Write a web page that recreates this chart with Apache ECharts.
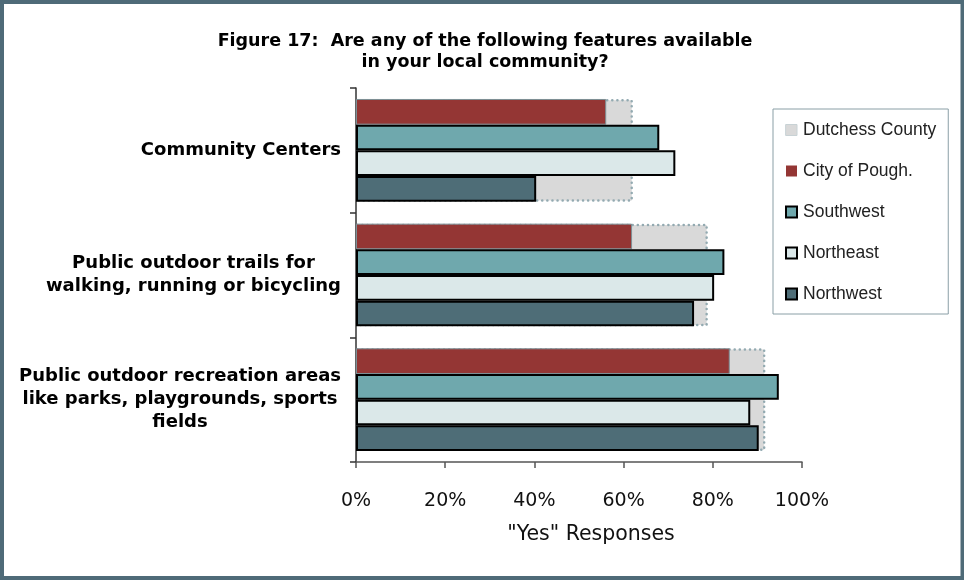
<!DOCTYPE html>
<html>
<head>
<meta charset="utf-8">
<script src="https://cdn.jsdelivr.net/npm/echarts@6/dist/echarts.min.js"></script>
<style>
html,body{margin:0;padding:0;background:#fff;}
#chart{width:964px;height:580px;}
</style>
</head>
<body>
<div id="chart"></div>
<script>
const categories = [
  "Community Centers",
  "Public outdoor trails for\nwalking, running or bicycling",
  "Public outdoor recreation areas\nlike parks, playgrounds, sports\nfields"
];
const dutchessCounty = [62.1, 78.9, 91.8];
const cityOfPough = [56.1, 61.9, 83.8];
const southwest = [68.0, 82.6, 94.8];
const northeast = [71.6, 80.3, 88.4];
const northwest = [40.4, 75.8, 90.3];
const xTicks = [0, 20, 40, 60, 80, 100];

const chart = echarts.init(document.getElementById('chart'));
const dj = '"DejaVu Sans", Verdana, sans-serif';
const lib = '"Liberation Sans", Arial, sans-serif';
const gapPct = '17.6%';

chart.setOption({
  animation: false,
  backgroundColor: '#fff',
  title: {
    text: 'Figure 17:  Are any of the following features available\nin your local community?',
    left: 480, top: 26, textAlign: 'center',
    textStyle: {fontFamily: dj, fontSize: 17.5, fontWeight: 'bold', color: '#000', lineHeight: 21}
  },
  legend: {
    orient: 'vertical',
    left: 773, top: 109,
    padding: [12, 12, 11, 12],
    itemGap: 23,
    itemWidth: 11, itemHeight: 11,
    borderColor: '#8a9fa6', borderWidth: 1,
    textStyle: {fontFamily: lib, fontSize: 17.5, color: '#222', padding: [0,0,0,1]},
    data: [
      {name: 'Dutchess County', icon: 'rect', itemStyle: {color: '#d9d9d9', borderColor: '#c8d2d5', borderWidth: 1}},
      {name: 'City of Pough.', icon: 'rect', itemStyle: {color: '#943634', borderWidth: 0}},
      {name: 'Southwest', icon: 'rect', itemStyle: {color: '#6fa8ad', borderColor: '#000', borderWidth: 2}},
      {name: 'Northeast', icon: 'rect', itemStyle: {color: '#dbe8e9', borderColor: '#000', borderWidth: 2}},
      {name: 'Northwest', icon: 'rect', itemStyle: {color: '#4e6d77', borderColor: '#000', borderWidth: 2}}
    ]
  },
  grid: {left: 356, right: 162, top: 88, bottom: 118, containLabel: false},
  xAxis: {
    type: 'value', min: 0, max: 100, interval: 20,
    axisLine: {show: true, lineStyle: {color: '#555', width: 1.5}},
    axisTick: {show: true, length: 6, lineStyle: {color: '#555', width: 1.5}},
    splitLine: {show: false},
    axisLabel: {
      fontFamily: dj, fontSize: 19, color: '#111', margin: 30,
      formatter: v => xTicks.includes(v) ? v + '%' : ''
    },
    name: '"Yes" Responses', nameLocation: 'middle', nameGap: 62,
    nameTextStyle: {fontFamily: dj, fontSize: 20.5, color: '#111', padding: [0,0,0,24]}
  },
  yAxis: [
    {
      type: 'category', data: categories, inverse: true,
      axisLine: {show: true, lineStyle: {color: '#333', width: 1.5}},
      axisTick: {show: true, length: 6, lineStyle: {color: '#333', width: 1.5}},
      axisLabel: {
        margin: 15, align: 'right',
        fontFamily: dj, fontSize: 18, fontWeight: 'bold', color: '#000',
        lineHeight: 23,
        formatter: v => v.split('\n').map(l => '{a|' + l + '}').join('\n'),
        rich: {a: {align: 'center', fontFamily: dj, fontSize: 18, fontWeight: 'bold', color: '#000', lineHeight: 23}}
      }
    },
    {
      type: 'category', data: categories, inverse: true, show: false
    }
  ],
  series: [
    {
      name: 'Dutchess County', type: 'bar', yAxisIndex: 1, data: dutchessCounty,
      barCategoryGap: gapPct,
      itemStyle: {color: '#d9d9d9', borderColor: '#93aab1', borderWidth: 2.5, borderType: [0.1, 5], borderCap: 'round'}
    },
    {
      name: 'City of Pough.', type: 'bar', data: cityOfPough, barGap: '0%', barCategoryGap: gapPct,
      itemStyle: {color: '#943634', borderColor: '#7d8f95', borderWidth: 1}
    },
    {
      name: 'Southwest', type: 'bar', data: southwest, barGap: '0%', barCategoryGap: gapPct,
      itemStyle: {color: '#6fa8ad', borderColor: '#000', borderWidth: 2}
    },
    {
      name: 'Northeast', type: 'bar', data: northeast, barGap: '0%', barCategoryGap: gapPct,
      itemStyle: {color: '#dbe8e9', borderColor: '#000', borderWidth: 2}
    },
    {
      name: 'Northwest', type: 'bar', data: northwest, barGap: '0%', barCategoryGap: gapPct,
      itemStyle: {color: '#4e6d77', borderColor: '#000', borderWidth: 2}
    }
  ],
  graphic: [
    {type: 'rect', silent: true, z: 100,
     shape: {x: 2, y: 2, width: 960.5, height: 576},
     style: {fill: 'none', stroke: '#4f6b78', lineWidth: 4}}
  ]
});
</script>
</body>
</html>
